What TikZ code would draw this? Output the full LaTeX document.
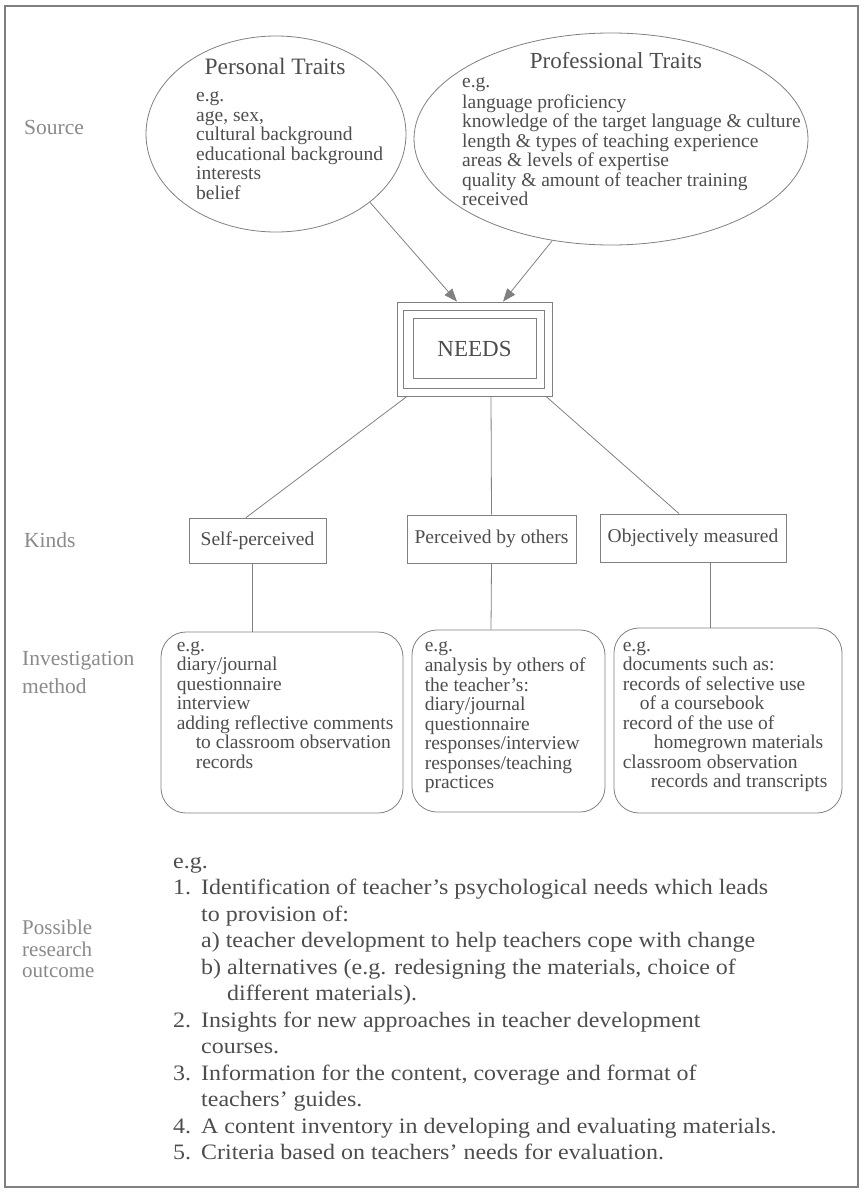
\documentclass[tikz,border=0pt]{standalone}
\usepackage{fontspec}
\setmainfont{Liberation Serif}
\newfontfamily\widefont[Ligatures=TeX,FakeStretch=1.09]{Liberation Serif}
\usetikzlibrary{shapes.geometric,arrows.meta}
\definecolor{inkgray}{HTML}{4D4D4D}
\definecolor{linegray}{HTML}{808080}
\definecolor{labelgray}{HTML}{8A8A8A}

\begin{document}
\begin{tikzpicture}[x=1pt,y=-1pt,
  every node/.style={text=inkgray},
  body/.style={font=\fontsize{19.5}{19.5}\selectfont,align=left,anchor=north west,inner sep=0pt},
  side/.style={font=\fontsize{21.5}{21.5}\selectfont,text=labelgray,align=left,anchor=north west,inner sep=0pt},
  trait/.style={ellipse,draw=linegray,line width=0.8pt,inner sep=0pt},
  kind/.style={draw=linegray,line width=0.8pt,inner sep=0pt,font=\fontsize{19.5}{19.5}\selectfont},
  method/.style={draw=linegray,line width=0.8pt,rounded corners=25pt,inner sep=0pt},
  link/.style={draw=linegray,line width=0.8pt},
  feed/.style={link,-{Triangle[length=13pt,width=10pt]}}]
\useasboundingbox (0,0) rectangle (863,1196);
\draw[linegray,line width=1.2pt] (5,6) rectangle (858,1187);

% sources
\node[trait,minimum width=260pt,minimum height=196pt] (pers) at (276,134) {};
\node[trait,minimum width=394pt,minimum height=212pt] (prof) at (611,139) {};
\node[font=\fontsize{23.5}{23.5}\selectfont] (perstitle) at (275,66) {Personal Traits};
\node[font=\fontsize{23}{23}\selectfont] (proftitle) at (616,61) {Professional Traits};
\node[body] (perslist) at (196,87.75) {\strut e.g.\\age, sex,\\cultural background\\educational background\\interests\\belief};
\node[body] (proflist) at (462,73.75) {\strut e.g.\\language proficiency\\knowledge of the target language \& culture\\length \& types of teaching experience\\areas \& levels of expertise\\quality \& amount of teacher training\\received};

% needs
\node[draw=linegray,line width=0.8pt,minimum width=155pt,minimum height=94pt,inner sep=0pt,font=\fontsize{23}{23}\selectfont] (needs) at (474.5,349) {NEEDS};
\draw[linegray,line width=0.8pt] ([xshift=7pt,yshift=-9pt]needs.north west) rectangle ([xshift=-8pt,yshift=8pt]needs.south east);
\draw[linegray,line width=0.8pt] ([xshift=17pt,yshift=-17pt]needs.north west) rectangle ([xshift=-16pt,yshift=18pt]needs.south east);
\draw[feed] (pers.-36) -- ([xshift=-17.5pt]needs.north);
\draw[feed] (prof.240) -- ([xshift=28.5pt]needs.north);

% kinds
\node[kind,minimum width=137pt,minimum height=45pt] (self) at (257.5,540.5) {Self-perceived};
\node[kind,minimum width=169pt,minimum height=48pt] (others) at (491.5,539) {Perceived by others};
\node[kind,minimum width=186pt,minimum height=48pt] (measured) at (693,538) {Objectively measured};
\draw[link] ([xshift=-67.5pt]needs.south) -- ([xshift=-11.5pt]self.north);
\draw[link] ([xshift=16.5pt]needs.south) -- (others.north);
\draw[link] ([xshift=71.5pt]needs.south) -- ([xshift=-14pt]measured.north);

% methods
\node[method,minimum width=242pt,minimum height=181pt] (diary) at (282,722.5) {};
\node[method,minimum width=193pt,minimum height=182pt] (analysis) at (508.5,721) {};
\node[method,minimum width=228pt,minimum height=185pt] (records) at (728,720.5) {};
\draw[link] ([xshift=-5.5pt]self.south) -- ([xshift=-30pt]diary.north);
\draw[link] (others.south) -- ([xshift=-17.5pt]analysis.north);
\draw[link] ([xshift=17pt]measured.south) -- ([xshift=-18pt]records.north);
\node[body] (diarytext) at ([xshift=16pt,yshift=-5.75pt]diary.north west) {\strut e.g.\\diary/journal\\questionnaire\\interview\\adding reflective comments\\\hspace*{19pt}to classroom observation\\\hspace*{19pt}records};
\node[body] (analysistext) at ([xshift=13pt,yshift=-7.75pt]analysis.north west) {\strut e.g.\\analysis by others of\\the teacher's:\\diary/journal\\questionnaire\\responses/interview\\responses/teaching\\practices};
\node[body] (recordstext) at ([xshift=9pt,yshift=-9.75pt]records.north west) {\strut e.g.\\documents such as:\\records of selective use\\\hspace*{17pt}of a coursebook\\record of the use of\\\hspace*{31pt}homegrown materials\\classroom observation\\\hspace*{28pt}records and transcripts};

% outcome
\node[font=\widefont\fontsize{22}{26.5}\selectfont,align=left,anchor=north west,inner sep=0pt] (outcome) at (173,849.4) {\strut e.g.\\
\makebox[28pt][l]{1.}Identification of teacher's psychological needs which leads\\
\hspace*{28pt}to provision of:\\
\hspace*{28pt}a) teacher development to help teachers cope with change\\
\hspace*{28pt}b) alternatives (e.g. redesigning the materials, choice of\\
\hspace*{54pt}different materials).\\
\makebox[28pt][l]{2.}Insights for new approaches in teacher development\\
\hspace*{28pt}courses.\\
\makebox[28pt][l]{3.}Information for the content, coverage and format of\\
\hspace*{28pt}teachers' guides.\\
\makebox[28pt][l]{4.}A content inventory in developing and evaluating materials.\\
\makebox[28pt][l]{5.}Criteria based on teachers' needs for evaluation.};

% side labels
\node[side,anchor=west] (source) at (24,127) {Source};
\node[side,anchor=west] (kinds) at (24,540) {Kinds};
\node[side,font=\fontsize{21.5}{28}\selectfont] (invest) at (22,645.2) {\strut Investigation\\method};
\node[side,font=\fontsize{21}{21.5}\selectfont] (possible) at (22,919.6) {\strut Possible\\research\\outcome};
\end{tikzpicture}
\end{document}
